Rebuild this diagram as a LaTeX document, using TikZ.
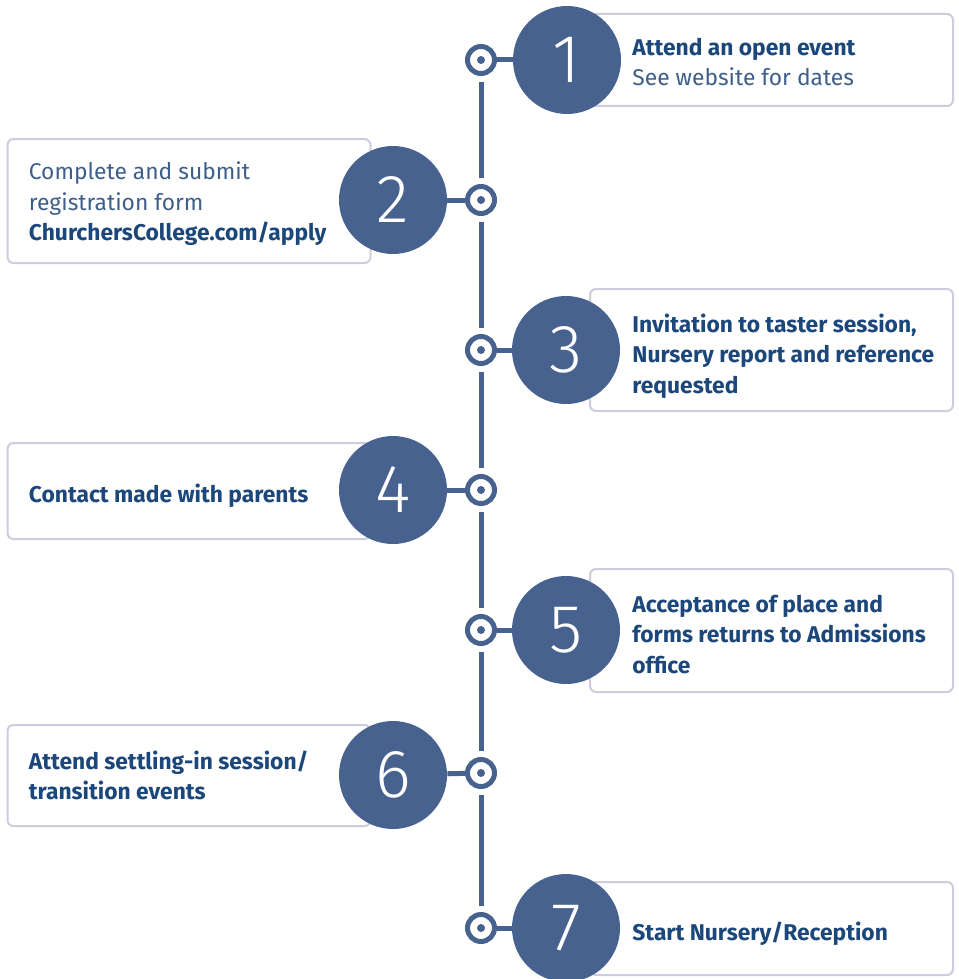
\documentclass[tikz,border=0pt]{standalone}
\usepackage{fontspec}
\setmainfont{Fira Sans}
\newfontfamily\digitfont{Fira Sans Light}

\definecolor{stepblue}{HTML}{48628F}
\definecolor{textblue}{HTML}{1C477A}
\definecolor{softblue}{HTML}{3D5F8A}
\definecolor{boxline}{HTML}{CDCDE0}

\tikzset{
  ring/.style={circle, draw=stepblue, line width=2.5pt, fill=white,
    minimum size=13.5pt, inner sep=0pt,
    path picture={\fill[stepblue] (path picture bounding box.center) circle (2pt);}},
  bignum/.style={circle, fill=stepblue, minimum size=54pt, inner sep=0pt,
    text=white, font=\digitfont\fontsize{34}{34}\selectfont},
  stepbox/.style={rectangle, rounded corners=3pt, draw=boxline, line width=1pt,
    fill=white, minimum width=181.5pt},
  steptext/.style={anchor=west, align=left, inner sep=0pt, text=textblue,
    font=\fontsize{11.4}{15.3}\selectfont},
  boldtext/.style={steptext, font=\bfseries\fontsize{11.4}{15.3}\selectfont},
  link/.style={draw=stepblue, line width=2.5pt}
}

\begin{document}
\begin{tikzpicture}[x=0.5pt, y=-0.5pt]
    \useasboundingbox (0,0) rectangle (958,979);

    % boxes
    \node[stepbox, minimum height=46pt] (b1) at (771.5, 60) {};
    \node[stepbox, minimum height=62pt] (b2) at (189, 201) {};
    \node[stepbox, minimum height=61pt] (b3) at (771.5, 350) {};
    \node[stepbox, minimum height=48pt] (b4) at (189, 491) {};
    \node[stepbox, minimum height=61.5pt] (b5) at (771.5, 630.5) {};
    \node[stepbox, minimum height=50.5pt] (b6) at (189, 775.5) {};
    \node[stepbox, minimum height=46.5pt] (b7) at (771.5, 928.5) {};

    \node[steptext] (t1) at ([xshift=21.5pt, yshift=-1pt]b1.west)
        {\textbf{Attend an open event}\\{\color{softblue}See website for dates}};
    \node[steptext] (t2) at ([xshift=11pt, yshift=-1.5pt]b2.west)
        {{\color{softblue}Complete and submit}\\{\color{softblue}registration form}\\\textbf{ChurchersCollege.com/apply}};
    \node[boldtext] (t3) at ([xshift=21.5pt, yshift=-3pt]b3.west)
        {Invitation to taster session,\\Nursery report and reference\\requested};
    \node[boldtext] (t4) at ([xshift=11pt, yshift=-2.5pt]b4.west)
        {Contact made with parents};
    \node[boldtext] (t5) at ([xshift=21.5pt, yshift=-2pt]b5.west)
        {Acceptance of place and\\forms returns to Admissions\\office};
    \node[boldtext] (t6) at ([xshift=11pt]b6.west)
        {Attend settling-in session/\\transition events};
    \node[boldtext] (t7) at ([xshift=21.5pt, yshift=-2.5pt]b7.west)
        {Start Nursery/Reception};

    % timeline dots
    \node[ring] (d1) at (481, 60) {};
    \node[ring] (d2) at (481, 200) {};
    \node[ring] (d3) at (481, 350) {};
    \node[ring] (d4) at (481, 490) {};
    \node[ring] (d5) at (481, 630) {};
    \node[ring] (d6) at (481, 773) {};
    \node[ring] (d7) at (481, 928) {};

    % numbered circles
    \node[bignum] (n1) at (567, 60) {1};
    \node[bignum] (n2) at (393, 200) {2};
    \node[bignum] (n3) at (566, 350) {3};
    \node[bignum] (n4) at (393, 490) {4};
    \node[bignum] (n5) at (566, 630) {5};
    \node[bignum] (n6) at (393, 775) {6};
    \node[bignum] (n7) at (566, 928) {7};

    \foreach \a/\b in {d1/d2, d2/d3, d3/d4, d4/d5, d5/d6, d6/d7}
        \draw[link, shorten <=3pt, shorten >=3pt] (\a) -- (\b);
    \foreach \i in {1,...,7}
        \draw[link] (d\i) -- (n\i);
\end{tikzpicture}
\end{document}
